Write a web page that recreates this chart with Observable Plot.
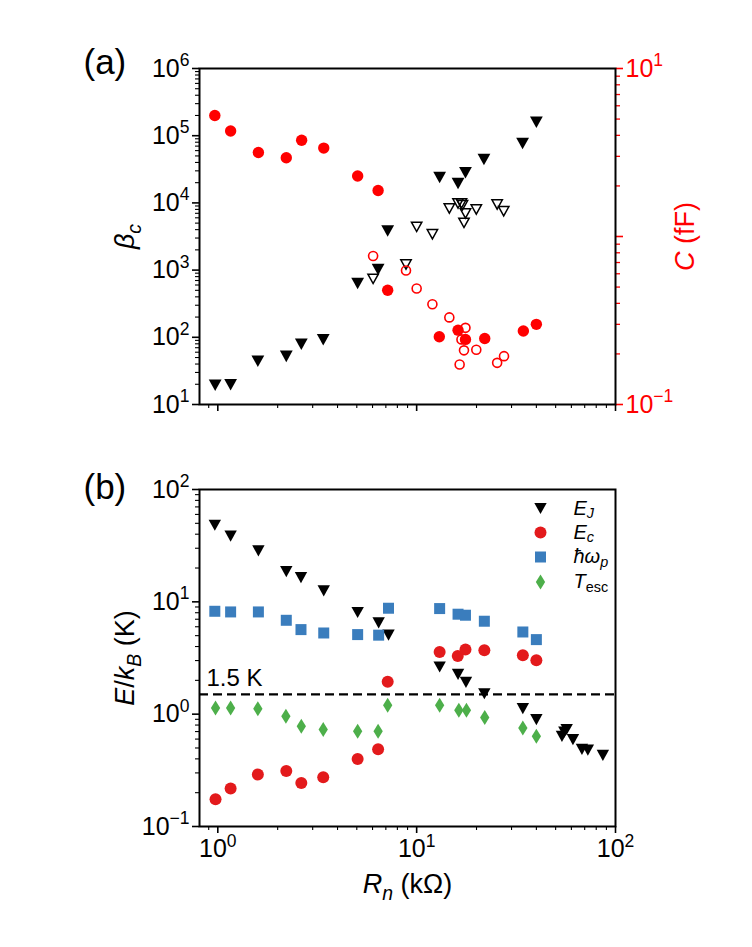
<!DOCTYPE html>
<html>
<head>
<meta charset="utf-8">
<script src="https://cdn.jsdelivr.net/npm/d3@7"></script>
<script src="https://cdn.jsdelivr.net/npm/@observablehq/plot@0.6"></script>
<style>
  html, body { margin: 0; padding: 0; background: #fff; }
  #wrap { width: 752px; height: 947px; position: relative; }
  #wrap svg { display: block; }
</style>
</head>
<body>
<div id="wrap"></div>
<script>
// ---------------- Panel (a) data ----------------
const betaFilledR = [0.97, 1.16, 1.59, 2.21, 2.63, 3.39, 5.05, 6.4, 7.15, 13.05, 16.15, 17.6, 21.8, 34.1, 40];
const betaFilled  = [19.4, 19.6, 44, 52, 79, 92, 630, 1020, 3830, 23900, 19400, 28000, 44300, 76500, 159000];

const betaOpenR = [6.04, 8.84, 10.0, 12.0, 14.6, 16.15, 16.8, 17.0, 17.6, 17.3, 19.95, 25.4, 27.4];
const betaOpen  = [740, 1210, 4400, 3420, 8260, 9800, 9800, 9250, 6950, 5040, 7980, 9470, 7520];

const capFilledR = [0.966, 1.16, 1.60, 2.21, 2.64, 3.41, 5.05, 6.4, 7.15, 13.0, 16.15, 17.6, 22.0, 34.4, 40];
const capFilled  = [5.25, 4.25, 3.16, 2.94, 3.74, 3.36, 2.29, 1.88, 0.479, 0.253, 0.277, 0.244, 0.247, 0.274, 0.30];

const capOpenR = [6.04, 8.84, 10.0, 12.0, 14.6, 17.6, 16.8, 17.3, 16.45, 19.95, 25.4, 27.5];
const capOpen  = [0.766, 0.627, 0.49, 0.395, 0.33, 0.286, 0.244, 0.21, 0.173, 0.212, 0.177, 0.194];

// ---------------- Panel (b) data ----------------
const ejR = [0.966, 1.16, 1.6, 2.21, 2.62, 3.41, 5.05, 6.44, 7.22, 13.05, 16.15, 17.7, 21.9, 34.2, 40, 53.8, 55.3, 56.8, 61.1, 67.8, 72.6, 86.4];
const ej  = [48.1, 38.4, 28.4, 18.6, 16.4, 12.5, 8.04, 6.49, 5.05, 2.63, 2.26, 1.92, 1.52, 1.12, 0.895, 0.635, 0.693, 0.73, 0.594, 0.486, 0.478, 0.43];

const ecR = [0.974, 1.16, 1.59, 2.21, 2.63, 3.39, 5.05, 6.4, 7.15, 13.05, 16.1, 17.6, 21.9, 34.2, 40];
const ec  = [0.1745, 0.2175, 0.29, 0.312, 0.244, 0.274, 0.399, 0.487, 1.94, 3.58, 3.30, 3.76, 3.71, 3.35, 3.02];

const wpR = [0.966, 1.16, 1.6, 2.21, 2.62, 3.41, 5.05, 6.44, 7.22, 13.05, 16.15, 17.6, 21.9, 34.2, 40];
const wp  = [8.24, 8.13, 8.13, 6.85, 5.66, 5.28, 5.11, 5.05, 8.77, 8.71, 7.76, 7.6, 6.72, 5.39, 4.61];

const tescR = [0.974, 1.16, 1.59, 2.2, 2.63, 3.39, 5.05, 6.4, 7.15, 13.05, 16.3, 17.8, 22.0, 34.2, 40];
const tesc  = [1.135, 1.135, 1.12, 0.958, 0.78, 0.73, 0.705, 0.705, 1.2, 1.2, 1.083, 1.083, 0.933, 0.754, 0.635];

const threshold = 1.5;
const thresholdLabel = "1.5 K";

const legendLabels = ["E_J", "E_c", "ħω_p", "T_esc"];
const panelLabels = ["(a)", "(b)"];

// ---------------- helpers ----------------
const FONT = '"Liberation Sans", Arial, Helvetica, sans-serif';
const FS = 25;      // tick labels
const LFS = 27;     // axis labels
const RED = "#ff0000";
const EJC = "#000000", ECC = "#e31a1c", WPC = "#3a7dbd", TC = "#4daf4a";

const pts = (xs, ys) => xs.map((x, i) => ({x, y: ys[i]}));
const expStr = e => (e < 0 ? "−" + (-e) : String(e));
const fmt10 = d => "10^" + expStr(Math.round(Math.log10(d)));
function decades(lo, hi) { const o = []; for (let e = Math.round(Math.log10(lo)); e <= Math.round(Math.log10(hi)); e++) o.push(10 ** e); return o; }
function minors(lo, hi) {
  const o = [];
  for (let e = Math.floor(Math.log10(lo)); e < Math.ceil(Math.log10(hi)); e++)
    for (let m = 2; m <= 9; m++) { const v = m * 10 ** e; if (v >= lo * 0.999 && v <= hi * 1.001) o.push(v); }
  return o;
}
// secondary axis: C (0.1..10) mapped onto beta (10..1e6)
const cToBeta = c => 10 ** (1 + 2.5 * (Math.log10(c) + 1));
const betaToC = b => 10 ** ((Math.log10(b) - 1) / 2.5 - 1);

const triDown = { draw(ctx, size) { const r = Math.sqrt(size / Math.PI); const w = r, h = r * 0.9;
  ctx.moveTo(-w, -h); ctx.lineTo(w, -h); ctx.lineTo(0, h); ctx.closePath(); } };
const thinDiamond = { draw(ctx, size) { const r = Math.sqrt(size / Math.PI);
  ctx.moveTo(0, -r); ctx.lineTo(0.62 * r, 0); ctx.lineTo(0, r); ctx.lineTo(-0.62 * r, 0); ctx.closePath(); } };
const squareS = { draw(ctx, size) { const r = Math.sqrt(size / Math.PI); ctx.rect(-r, -r, 2 * r, 2 * r); } };

const xDomain = [0.809, 100];

function superscripts(svg) {
  d3.select(svg).selectAll("text").each(function () {
    const m = /^10\^(−?\d+)$/.exec(this.textContent);
    if (!m) return;
    const fs = parseFloat(getComputedStyle(this).fontSize) || FS;
    const t = d3.select(this); t.text(null);
    t.append("tspan").text("10");
    t.append("tspan").attr("dy", -0.42 * fs).attr("font-size", 0.7 * fs).text(m[1]);
  });
}
function rich(svg, key, parts, subShift = 0.24) {
  d3.select(svg).selectAll("text").filter(function () { return this.textContent === key; }).each(function () {
    const fs = parseFloat(getComputedStyle(this).fontSize) || FS;
    const t = d3.select(this); t.text(null);
    let shift = 0;
    for (const [s, st] of parts) {
      const ts = t.append("tspan").text(s);
      let target = 0;
      if (st.includes("b")) target = subShift * fs; else if (st.includes("p")) target = -0.42 * fs;
      if (target !== shift) { ts.attr("dy", target - shift); shift = target; }
      if (st.includes("b") || st.includes("p")) ts.attr("font-size", 0.72 * fs);
      if (st.includes("i")) ts.attr("font-style", "italic");
    }
  });
}

// ---------------- Panel (a) ----------------
const yDomA = [10, 1e6];
const plotA = Plot.plot({
  width: 752, height: 450,
  marginTop: 68, marginBottom: 46, marginLeft: 199, marginRight: 137,
  x: {type: "log", domain: xDomain, label: null},
  y: {type: "log", domain: yDomA, label: null},
  style: {fontFamily: FONT, fontSize: FS + "px", color: "black", background: "white", overflow: "visible"},
  marks: [
    Plot.axisX(decades(1, 100), {tickSize: 7, strokeWidth: 1.6, tickFormat: () => "", label: null}),
    Plot.axisX(minors(xDomain[0], xDomain[1]), {tickSize: 4, strokeWidth: 1.1, tickFormat: () => "", label: null}),
    Plot.axisY(decades(yDomA[0], yDomA[1]), {anchor: "left", tickSize: 7, tickPadding: 3, strokeWidth: 1.6, tickFormat: fmt10, label: null}),
    Plot.axisY(minors(yDomA[0], yDomA[1]), {anchor: "left", tickSize: 4, strokeWidth: 1.1, tickFormat: () => "", label: null}),
    Plot.axisY(decades(0.1, 10).map(cToBeta), {anchor: "right", tickSize: 7, tickPadding: 3, strokeWidth: 1.6, color: RED, tickFormat: b => fmt10(betaToC(b)), label: null}),
    Plot.axisY(minors(0.1, 10).map(cToBeta), {anchor: "right", tickSize: 4, strokeWidth: 1.3, color: RED, tickFormat: () => "", label: null}),
    Plot.dot(pts(betaFilledR, betaFilled), {x: "x", y: "y", symbol: triDown, r: 6.4, fill: "black"}),
    Plot.dot(pts(betaOpenR, betaOpen), {x: "x", y: "y", symbol: triDown, r: 5.2, fill: "none", stroke: "black", strokeWidth: 1.5}),
    Plot.dot(pts(capFilledR, capFilled), {x: "x", y: d => cToBeta(d.y), r: 5.7, fill: RED}),
    Plot.dot(pts(capOpenR, capOpen), {x: "x", y: d => cToBeta(d.y), r: 4.5, fill: "none", stroke: RED, strokeWidth: 1.6}),
    Plot.frame({stroke: "black", strokeWidth: 2}),
    Plot.text([panelLabels[0]], {frameAnchor: "top-left", dx: -116, dy: -6, textAnchor: "start", lineAnchor: "middle", fontSize: 35}),
    Plot.text(["β_c"], {frameAnchor: "left", dx: -74, rotate: -90, textAnchor: "middle", lineAnchor: "middle", fontSize: LFS}),
    Plot.text(["C (fF)"], {frameAnchor: "right", dx: 70, rotate: -90, textAnchor: "middle", lineAnchor: "middle", fontSize: LFS, fill: RED})
  ]
});

// ---------------- Panel (b) ----------------
const yDomB = [0.1, 100];
const legendSymbols = [triDown, "circle", squareS, thinDiamond];
const legendColors = [EJC, ECC, WPC, TC];
const legendR = [6.2, 6, 5.5, 7.5];
const legendDy = [19, 43, 67.5, 92.5];
const plotB = Plot.plot({
  width: 752, height: 497,
  marginTop: 39, marginBottom: 121, marginLeft: 199, marginRight: 137,
  x: {type: "log", domain: xDomain, label: null},
  y: {type: "log", domain: yDomB, label: null},
  style: {fontFamily: FONT, fontSize: FS + "px", color: "black", background: "white", overflow: "visible"},
  marks: [
    Plot.axisX(decades(1, 100), {tickSize: 7, tickPadding: 6, strokeWidth: 1.6, tickFormat: fmt10, label: null}),
    Plot.axisX(minors(xDomain[0], xDomain[1]), {tickSize: 4, strokeWidth: 1.1, tickFormat: () => "", label: null}),
    Plot.axisY(decades(yDomB[0], yDomB[1]), {anchor: "left", tickSize: 7, tickPadding: 3, strokeWidth: 1.6, tickFormat: fmt10, label: null}),
    Plot.axisY(minors(yDomB[0], yDomB[1]), {anchor: "left", tickSize: 4, strokeWidth: 1.1, tickFormat: () => "", label: null}),
    Plot.ruleY([threshold], {stroke: "black", strokeWidth: 2.4, strokeDasharray: "9,5"}),
    Plot.text([threshold], {frameAnchor: "left", y: d => d, dx: 7, dy: -16, text: () => thresholdLabel, textAnchor: "start", lineAnchor: "middle", fontSize: 24}),
    Plot.dot(pts(ejR, ej), {x: "x", y: "y", symbol: triDown, r: 6.2, fill: EJC}),
    Plot.dot(pts(ecR, ec), {x: "x", y: "y", r: 6, fill: ECC}),
    Plot.dot(pts(wpR, wp), {x: "x", y: "y", symbol: squareS, r: 5.5, fill: WPC}),
    Plot.dot(pts(tescR, tesc), {x: "x", y: "y", symbol: thinDiamond, r: 7.5, fill: TC}),
    ...legendLabels.map((lab, i) => Plot.dot([lab], {frameAnchor: "top-right", dx: -75, dy: legendDy[i], symbol: legendSymbols[i], r: legendR[i], fill: legendColors[i]})),
    ...legendLabels.map((lab, i) => Plot.text([lab], {frameAnchor: "top-right", dx: -42, dy: legendDy[i], textAnchor: "start", lineAnchor: "middle", fontSize: 20})),
    Plot.frame({stroke: "black", strokeWidth: 2}),
    Plot.text([panelLabels[1]], {frameAnchor: "top-left", dx: -116, dy: -2, textAnchor: "start", lineAnchor: "middle", fontSize: 35}),
    Plot.text(["E/k_B (K)"], {frameAnchor: "left", dx: -74, rotate: -90, textAnchor: "middle", lineAnchor: "middle", fontSize: LFS}),
    Plot.text(["R_n (kΩ)"], {frameAnchor: "bottom", dy: 58, textAnchor: "middle", lineAnchor: "middle", fontSize: LFS})
  ]
});

const wrap = document.getElementById("wrap");
wrap.appendChild(plotA);
wrap.appendChild(plotB);

for (const svg of [plotA, plotB]) superscripts(svg);
rich(plotA, "β_c", [["β", "i"], ["c", "ib"]]);
rich(plotA, "C (fF)", [["C", "i"], [" (fF)", ""]]);
rich(plotB, "E/k_B (K)", [["E", "i"], ["/", ""], ["k", "i"], ["B", "ib"], [" (K)", ""]]);
rich(plotB, "R_n (kΩ)", [["R", "i"], ["n", "ib"], [" (kΩ)", ""]]);
rich(plotB, "E_J", [["E", "i"], ["J", "ib"]], 0.16);
rich(plotB, "E_c", [["E", "i"], ["c", "ib"]], 0.16);
rich(plotB, "ħω_p", [["ħω", "i"], ["p", "ib"]], 0.16);
rich(plotB, "T_esc", [["T", "i"], ["esc", "b"]], 0.16);
</script>
</body>
</html>
